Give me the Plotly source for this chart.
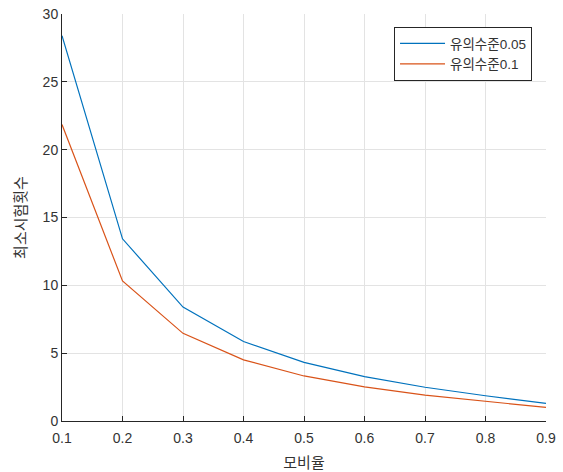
import plotly.graph_objects as go

x_vals = [0.1, 0.2, 0.3, 0.4, 0.5, 0.6, 0.7, 0.8, 0.9]
sig_005 = [28.4, 13.43, 8.40, 5.86, 4.32, 3.27, 2.49, 1.86, 1.30]
sig_01 = [21.85, 10.32, 6.46, 4.51, 3.32, 2.51, 1.91, 1.43, 1.00]
names = ["유의수준0.05", "유의수준0.1"]
x_ticks = [0.1, 0.2, 0.3, 0.4, 0.5, 0.6, 0.7, 0.8, 0.9]
y_ticks = [0, 5, 10, 15, 20, 25, 30]

FONT = "Liberation Sans, Noto Sans CJK KR, sans-serif"
TXT = "#333333"

fig = go.Figure()
fig.add_trace(go.Scatter(x=x_vals, y=sig_005, mode="lines", name=names[0],
                         line=dict(color="#0072BD", width=1.2)))
fig.add_trace(go.Scatter(x=x_vals, y=sig_01, mode="lines", name=names[1],
                         line=dict(color="#D95319", width=1.2)))

axis_common = dict(showline=True, linecolor="#262626", linewidth=1,
                   showgrid=True, gridcolor="#e3e3e3", gridwidth=1,
                   ticks="inside", ticklen=5, tickcolor="#262626",
                   zeroline=False, mirror=False,
                   tickfont=dict(family=FONT, size=14, color=TXT))

fig.update_xaxes(range=[0.1, 0.9], tickvals=x_ticks,
                 ticktext=[str(v) for v in x_ticks],
                 ticklabelstandoff=4,
                 title=dict(text="모비율", font=dict(family=FONT, size=15, color=TXT), standoff=12),
                 **axis_common)
fig.update_yaxes(range=[0, 30], tickvals=y_ticks,
                 title=dict(text="최소시험횟수", font=dict(family=FONT, size=15, color=TXT), standoff=12),
                 **axis_common)

fig.update_layout(
    width=563, height=472,
    margin=dict(l=62, r=17, t=14, b=51, autoexpand=False),
    paper_bgcolor="white", plot_bgcolor="white",
    font=dict(family=FONT, color=TXT),
    legend=dict(x=0.686, y=0.968, xanchor="left", yanchor="top",
                bordercolor="#262626", borderwidth=1, bgcolor="white",
                font=dict(family=FONT, size=13.5, color=TXT),
                itemwidth=45, tracegroupgap=0),
    showlegend=True,
)

fig.write_html("out.html", config={"displayModeBar": False},
               post_script="document.body.style.margin='0';document.body.style.overflow='hidden';")
